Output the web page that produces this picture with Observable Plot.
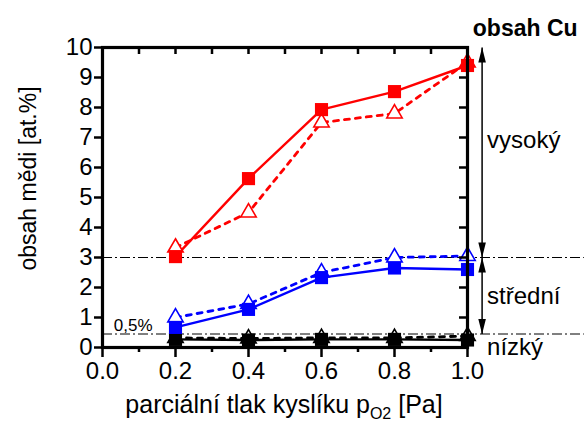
<!DOCTYPE html>
<html>
<head>
<meta charset="utf-8">
<script src="https://cdn.jsdelivr.net/npm/d3@7"></script>
<script src="https://cdn.jsdelivr.net/npm/@observablehq/plot@0.6"></script>
<style>
  html, body { margin: 0; padding: 0; background: #fff; }
</style>
</head>
<body>
<div id="chart"></div>
<script>
// ---- data ----
const pressure = [0.2, 0.4, 0.6, 0.8, 1.0];
const highSquares = [3.03, 5.63, 7.93, 8.53, 9.40];
const highTriangles = [3.33, 4.50, 7.50, 7.80, 9.50];
const midSquares = [0.67, 1.27, 2.33, 2.65, 2.60];
const midTriangles = [1.00, 1.45, 2.50, 3.00, 3.05];
const lowSquares = [0.27, 0.25, 0.27, 0.27, 0.25];
const lowTriangles = [0.32, 0.30, 0.32, 0.32, 0.38];
const thresholds = [3, 0.45];
const xMajorTicks = [0, 0.2, 0.4, 0.6, 0.8, 1.0];
const xMinorTicks = [0.1, 0.3, 0.5, 0.7, 0.9];
const yTicks = [0, 1, 2, 3, 4, 5, 6, 7, 8, 9, 10];
const arrowX = 1.04;
const ranges = [
  {label: "vysoký", from: 10, to: 3, mid: 6.9},
  {label: "střední", from: 3, to: 0.45, mid: 1.7},
  {label: "nízký", from: 0.45, to: null, mid: 0.02}
];

const FONT = "'Liberation Sans', Arial, Helvetica, sans-serif";
const series = (ys) => pressure.map((x, i) => ({x, y: ys[i]}));

const upHead = {draw(ctx) { ctx.moveTo(0, 0); ctx.lineTo(-3.8, 15); ctx.lineTo(3.8, 15); ctx.closePath(); }};
const downHead = {draw(ctx) { ctx.moveTo(0, 0); ctx.lineTo(-3.8, -15); ctx.lineTo(3.8, -15); ctx.closePath(); }};

const segs = ranges.filter(r => r.to !== null);
const heads = [];
segs.forEach(r => { heads.push({y: r.from, dir: "up"}); heads.push({y: r.to, dir: "down"}); });

const dash = "5,6";
const sq = {symbol: "square", r: 7.4};
const tri = {symbol: "triangle", r: 5.7, fill: "white", strokeWidth: 1.6};

function lineSet(sqData, triData, color) {
  return [
    Plot.line(series(triData), {x: "x", y: "y", stroke: color, strokeWidth: 2.8, strokeDasharray: dash}),
    Plot.line(series(sqData), {x: "x", y: "y", stroke: color, strokeWidth: 2.4}),
    Plot.dot(series(triData), {x: "x", y: "y", ...tri, stroke: color}),
    Plot.dot(series(sqData), {x: "x", y: "y", ...sq, fill: color})
  ];
}

const chart = Plot.plot({
  width: 587,
  height: 430,
  marginLeft: 102,
  marginRight: 120,
  marginTop: 47,
  marginBottom: 83,
  style: {fontFamily: FONT, fontSize: "24px", color: "black", background: "white"},
  x: {domain: [0, 1]},
  y: {domain: [0, 10]},
  marks: [
    // reference lines
    Plot.ruleY(thresholds, {x1: 0, x2: 1.32, stroke: "black", strokeWidth: 1, strokeDasharray: "10,3,2,3"}),
    // series (black, blue, red)
    ...lineSet(lowSquares, lowTriangles, "black"),
    ...lineSet(midSquares, midTriangles, "#0000ff"),
    ...lineSet(highSquares, highTriangles, "#ff0000"),
    // axes
    Plot.axisX({ticks: xMajorTicks, tickSize: 10, tickPadding: 4, tickFormat: d3.format(".1f"), strokeWidth: 2.5, fontSize: 24, label: null}),
    Plot.axisX({ticks: xMinorTicks, tickSize: 5, tickFormat: () => "", strokeWidth: 2.5, label: null}),
    Plot.axisY({ticks: yTicks, tickSize: 8, tickPadding: 2, tickFormat: d3.format("d"), strokeWidth: 2.5, fontSize: 24, label: null}),
    Plot.ruleX([...xMajorTicks, ...xMinorTicks], {x: d => d, insetBottom: 293, strokeWidth: 2.5}),
    Plot.ruleY(yTicks, {y: d => d, insetLeft: 357, strokeWidth: 2.5}),
    Plot.frame({strokeWidth: 3.2}),
    // range arrows
    Plot.link(segs, {x1: arrowX, x2: arrowX, y1: "from", y2: "to", stroke: "black", strokeWidth: 1.5}),
    Plot.dot(heads.filter(h => h.dir === "up"), {x: arrowX, y: "y", symbol: upHead, fill: "black", stroke: null}),
    Plot.dot(heads.filter(h => h.dir === "down"), {x: arrowX, y: "y", symbol: downHead, fill: "black", stroke: null}),
    Plot.text(ranges, {x: arrowX, y: "mid", text: "label", textAnchor: "start", dx: 5, fontSize: 24}),
    Plot.text(["obsah Cu"], {x: 1.0145, y: 10.62, textAnchor: "start", fontSize: 23, fontWeight: "bold"}),
    Plot.text(["0,5%"], {x: 0.031, y: 0.72, textAnchor: "start", fontSize: 17}),
    // axis labels
    Plot.text(["obsah mědi [at.%]"], {frameAnchor: "left", textAnchor: "middle", dx: -74, dy: -19, rotate: -90, fontSize: 23}),
    Plot.text(["XLABEL"], {frameAnchor: "bottom", textAnchor: "middle", dx: -1, dy: 65, fontSize: 25})
  ]
});

// subscript in x label
d3.select(chart).selectAll("text").each(function() {
  if (this.textContent === "XLABEL") {
    const t = d3.select(this);
    t.text(null);
    t.append("tspan").text("parciální tlak kyslíku p");
    t.append("tspan").attr("dy", 6).attr("font-size", 16).text("O2");
    t.append("tspan").attr("dy", -6).text(" [Pa]");
  }
});

document.getElementById("chart").appendChild(chart);
</script>
</body>
</html>
